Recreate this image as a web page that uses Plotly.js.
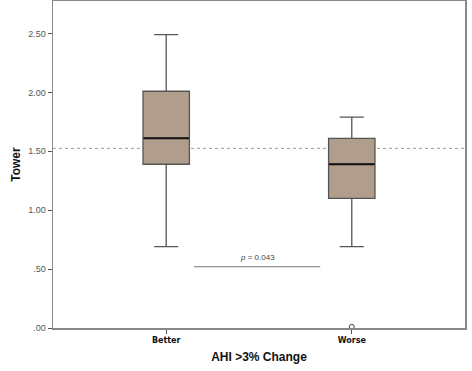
<!DOCTYPE html>
<html><head><meta charset="utf-8">
<script src="https://cdn.plot.ly/plotly-3.0.1.min.js"></script>
<style>html,body{margin:0;padding:0;background:#fff}#chart{width:472px;height:371px}</style>
</head><body><div id="chart"></div>
<script>
const categories = ["Better", "Worse"];
const lowerWhisker = [0.69, 0.69];
const q1Values = [1.39, 1.10];
const medians = [1.61, 1.39];
const q3Values = [2.01, 1.61];
const upperWhisker = [2.49, 1.79];
const outlierCats = ["Worse"];
const outlierValues = [0.01];
const referenceValue = [1.525];
const pLabel = "<i>p</i> = 0.043";
const pBracketX = [0.15, 0.83];
const pBracketY = [0.52];
const yTickVals = [0, 0.5, 1, 1.5, 2, 2.5];
const yTickText = [".00", ".50", "1.00", "1.50", "2.00", "2.50"];

const boxTrace = {
  type: "box", x: categories, q1: q1Values, median: medians, q3: q3Values,
  lowerfence: lowerWhisker, upperfence: upperWhisker,
  fillcolor: "#b19d8c", line: {color: "#555555", width: 1.3},
  width: 0.25, whiskerwidth: 0.52, boxpoints: false, hoverinfo: "skip", showlegend: false
};
const medianTrace = {
  type: "box", x: categories, q1: medians, median: medians, q3: medians,
  lowerfence: medians, upperfence: medians,
  fillcolor: "rgba(0,0,0,0)", line: {color: "#111111", width: 2},
  width: 0.245, whiskerwidth: 0, boxpoints: false, hoverinfo: "skip", showlegend: false
};
const outlierTrace = {
  type: "scatter", mode: "markers", x: outlierCats, y: outlierValues,
  marker: {symbol: "circle-open", size: 5, color: "#444", line: {width: 1}},
  cliponaxis: false, showlegend: false, hoverinfo: "skip"
};

const layout = {
  width: 472, height: 371,
  margin: {l: 53, r: 7, t: 1, b: 43},
  paper_bgcolor: "#fff", plot_bgcolor: "#fff",
  font: {family: "Liberation Sans, Arial, sans-serif"},
  xaxis: {
    type: "category", range: [-0.61, 1.61],
    showline: true, mirror: true, linecolor: "#888", linewidth: 1.5,
    showgrid: false, zeroline: false,
    ticks: "outside", ticklen: 4, tickcolor: "#555",
    tickfont: {size: 8, color: "#111", family: "DejaVu Sans, sans-serif", weight: "bold"},
    title: {text: "<b>AHI >3% Change</b>", font: {size: 12, color: "#111"}, standoff: 8}
  },
  yaxis: {
    range: [0, 2.776],
    showline: true, mirror: true, linecolor: "#888", linewidth: 1.5,
    showgrid: false, zeroline: false,
    tickvals: yTickVals, ticktext: yTickText,
    ticks: "outside", ticklen: 4, tickcolor: "#555",
    tickfont: {size: 9, color: "#555"},
    title: {text: "<b>Tower</b>", font: {size: 12, color: "#111"}, standoff: 5}
  },
  shapes: [{
    type: "line", xref: "paper", x0: 0, x1: 1, yref: "y",
    y0: referenceValue[0], y1: referenceValue[0],
    line: {color: "#999", width: 1, dash: "dot"}, layer: "below"
  }, {
    type: "line", xref: "x", yref: "y",
    x0: pBracketX[0], x1: pBracketX[1], y0: pBracketY[0], y1: pBracketY[0],
    line: {color: "#777", width: 1}
  }],
  annotations: [{
    x: (pBracketX[0] + pBracketX[1]) / 2, y: pBracketY[0], xref: "x", yref: "y",
    text: pLabel, showarrow: false, yanchor: "bottom", yshift: 3,
    font: {size: 8, color: "#444"}
  }]
};

Plotly.newPlot("chart", [boxTrace, medianTrace, outlierTrace], layout, {staticPlot: true, displayModeBar: false});
</script></body></html>
